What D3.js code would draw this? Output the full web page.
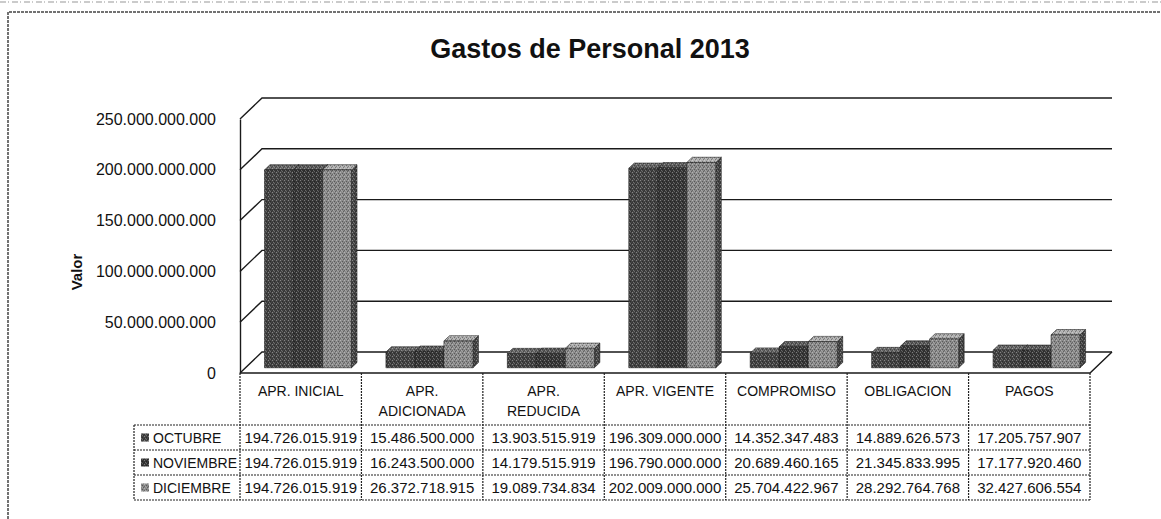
<!DOCTYPE html>
<html>
<head>
<meta charset="utf-8">
<script src="https://cdn.jsdelivr.net/npm/d3@7"></script>
<style>
  body { margin: 0; background: #fff; }
  svg { display: block; }
  text { font-family: "Liberation Sans", Arial, sans-serif; fill: #111; }
</style>
</head>
<body>
<div id="chart"></div>
<script>
// values
let categories = ["APR. INICIAL", "APR. ADICIONADA", "APR. REDUCIDA", "APR. VIGENTE", "COMPROMISO", "OBLIGACION", "PAGOS"];
let seriesNames = ["OCTUBRE", "NOVIEMBRE", "DICIEMBRE"];
let octubre   = [194726015919, 15486500000, 13903515919, 196309000000, 14352347483, 14889626573, 17205757907];
let noviembre = [194726015919, 16243500000, 14179515919, 196790000000, 20689460165, 21345833995, 17177920460];
let diciembre = [194726015919, 26372718915, 19089734834, 202009000000, 25704422967, 28292764768, 32427606554];
let yTicks = [0, 50e9, 100e9, 150e9, 200e9, 250e9];

let seriesValues = [octubre, noviembre, diciembre];

let width = 1161, height = 519;
let plotLeft = 240, plotRight = 1090;
let floorY = 373, topY = 119;
let depthX = 22, depthY = 21;   // oblique offset of the back wall
let zFront = 0.25, zBack = 0.5;  // depth span of the bars

let svg = d3.select("#chart").append("svg")
  .attr("width", width)
  .attr("height", height);

let fmt = d3.formatLocale({decimal: ",", thousands: ".", grouping: [3], currency: ["$", ""]}).format(",d");

let xScale = d3.scaleBand().domain(categories).range([plotLeft, plotRight]).padding(0);
let sScale = d3.scaleBand().domain(seriesNames).range([19, 106]).padding(0);
let yScale = d3.scaleLinear().domain([0, 250e9]).range([floorY, topY]);

// dithered look of the scanned print
let faceColors = {
  OCTUBRE:   {front: "#434343", side: "#232323", top: "#666"},
  NOVIEMBRE: {front: "#383838", side: "#1e1e1e", top: "#5a5a5a"},
  DICIEMBRE: {front: "#8a8a8a", side: "#454545", top: "#adadad"}
};
let defs = svg.append("defs");
let noise = defs.append("pattern")
  .attr("id", "noise")
  .attr("width", 4).attr("height", 4)
  .attr("patternUnits", "userSpaceOnUse");
[[0,0,"#fff",0.35],[2,1,"#000",0.35],[1,2,"#fff",0.25],[3,3,"#000",0.3],[2,3,"#fff",0.2],[0,2,"#000",0.25]]
  .forEach(p => noise.append("rect").attr("x", p[0]).attr("y", p[1]).attr("width", 1).attr("height", 1)
    .attr("fill", p[2]).attr("opacity", p[3]));

// scan artefacts: outer frame and stray line at the top
svg.append("line").attr("x1", 0).attr("x2", width).attr("y1", 2).attr("y2", 2)
  .attr("stroke", "#bbb").attr("stroke-width", 1.5).attr("stroke-dasharray", "6,2,1,3");
svg.append("path")
  .attr("d", `M8,${height} V12 H${width}`)
  .attr("fill", "none").attr("stroke", "#444").attr("stroke-width", 1.5)
  .attr("stroke-dasharray", "3,1");

svg.append("text")
  .attr("x", 590).attr("y", 58)
  .attr("text-anchor", "middle")
  .attr("font-size", 27).attr("font-weight", "bold")
  .text("Gastos de Personal 2013");

svg.append("text")
  .attr("transform", "translate(82,272) rotate(-90)")
  .attr("text-anchor", "middle")
  .attr("font-size", 15).attr("font-weight", "bold")
  .text("Valor");

// walls and gridlines
let grid = svg.append("g").attr("stroke", "#1a1a1a").attr("stroke-width", 1.4).attr("fill", "none");
yTicks.forEach(t => {
  let y = yScale(t);
  grid.append("path")
    .attr("d", `M${plotLeft},${y} L${plotLeft + depthX},${y - depthY} H${plotRight + depthX}`);
});
// floor
grid.append("path")
  .attr("d", `M${plotLeft},${floorY} H${plotRight} L${plotRight + depthX},${floorY - depthY}`);

let yAxis = d3.axisLeft(yScale).tickValues(yTicks).tickFormat(fmt).tickSize(0).tickPadding(24);
let yAxisG = svg.append("g")
  .attr("transform", `translate(${plotLeft},0)`)
  .call(yAxis);
yAxisG.select(".domain").attr("stroke", "#1a1a1a").attr("stroke-width", 1.4);
yAxisG.selectAll("text")
  .attr("font-size", 16)
  .attr("font-family", "Liberation Sans, Arial, sans-serif")
  .attr("fill", "#111");

// 3D columns
function pt(x, v, z) {
  return [x + z * depthX, yScale(v) - z * depthY];
}
let barData = [];
categories.forEach((c, i) => {
  seriesNames.forEach((s, j) => {
    barData.push({cat: c, series: s, value: seriesValues[j][i]});
  });
});

let bars = svg.append("g").selectAll("g")
  .data(barData)
  .enter()
  .append("g");

bars.each(function(d) {
  let g = d3.select(this);
  let x0 = xScale(d.cat) + sScale(d.series);
  let x1 = x0 + sScale.bandwidth();
  let col = faceColors[d.series];
  let faces = [
    {fill: col.side, pts: [pt(x1, 0, zFront), pt(x1, d.value, zFront), pt(x1, d.value, zBack), pt(x1, 0, zBack)]},
    {fill: col.top, pts: [pt(x0, d.value, zFront), pt(x1, d.value, zFront), pt(x1, d.value, zBack), pt(x0, d.value, zBack)]},
    {fill: col.front, pts: [pt(x0, 0, zFront), pt(x1, 0, zFront), pt(x1, d.value, zFront), pt(x0, d.value, zFront)]}
  ];
  faces.forEach(f => {
    g.append("polygon").attr("points", f.pts.join(" ")).attr("fill", f.fill)
      .attr("stroke", "#222").attr("stroke-width", 0.6);
    g.append("polygon").attr("points", f.pts.join(" ")).attr("fill", "url(#noise)");
  });
});

// data table
let tableTop = floorY, headerBottom = 425, rowH = 25, rowLeft = 134;
let rowY = d3.scaleBand().domain(seriesNames).range([headerBottom, headerBottom + rowH * 3]);
let tableBottom = headerBottom + rowH * 3;

let table = svg.append("g");
let lines = table.append("g").attr("stroke", "#222").attr("stroke-width", 1.2)
  .attr("stroke-dasharray", "2,1").attr("fill", "none");
let colEdges = categories.map(c => xScale(c)).concat([plotRight]);
colEdges.forEach(x => {
  lines.append("line").attr("x1", x).attr("x2", x).attr("y1", tableTop).attr("y2", tableBottom);
});
lines.append("line").attr("x1", rowLeft).attr("x2", rowLeft).attr("y1", headerBottom).attr("y2", tableBottom);
seriesNames.forEach(s => {
  lines.append("line").attr("x1", rowLeft).attr("x2", plotRight)
    .attr("y1", rowY(s)).attr("y2", rowY(s));
});
lines.append("line").attr("x1", rowLeft).attr("x2", plotRight)
  .attr("y1", tableBottom).attr("y2", tableBottom);

// column headers, wrapped when too wide for the cell
categories.forEach(c => {
  let t = table.append("text")
    .attr("x", xScale(c) + xScale.bandwidth() / 2)
    .attr("y", tableTop + 23)
    .attr("text-anchor", "middle")
    .attr("font-size", 14)
    .text(c);
  if (t.node().getComputedTextLength() > xScale.bandwidth() * 0.86) {
    let parts = c.split(" ");
    t.text(null);
    parts.forEach((p, k) => {
      t.append("tspan").attr("x", xScale(c) + xScale.bandwidth() / 2)
        .attr("dy", k === 0 ? 0 : 20).text(p);
    });
  }
});

// rows: legend key + values
seriesNames.forEach((s, j) => {
  let cy = rowY(s) + rowY.bandwidth() / 2;
  table.append("rect")
    .attr("x", rowLeft + 7).attr("y", cy - 4)
    .attr("width", 8).attr("height", 8)
    .attr("fill", faceColors[s].front);
  table.append("rect")
    .attr("x", rowLeft + 7).attr("y", cy - 4)
    .attr("width", 8).attr("height", 8)
    .attr("fill", "url(#noise)");
  table.append("text")
    .attr("x", rowLeft + 19).attr("y", cy + 5)
    .attr("font-size", 14)
    .text(s);
  categories.forEach((c, i) => {
    table.append("text")
      .attr("x", xScale(c) + xScale.bandwidth() / 2)
      .attr("y", cy + 5)
      .attr("text-anchor", "middle")
      .attr("font-size", 15)
      .text(fmt(seriesValues[j][i]));
  });
});
</script>
</body>
</html>
